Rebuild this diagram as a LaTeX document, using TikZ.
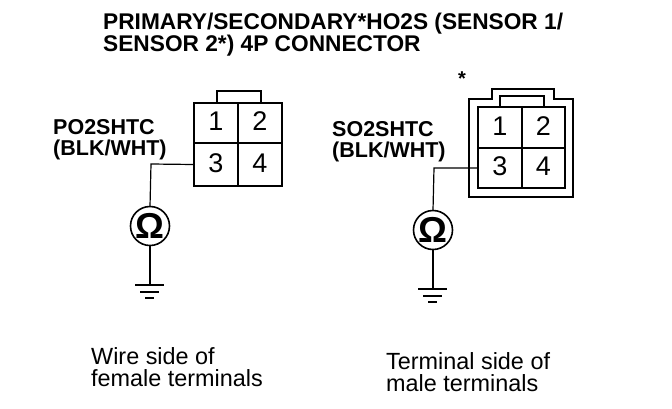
\documentclass[tikz,border=0pt]{standalone}
\usepackage{fontspec}
\setmainfont{Liberation Sans}
\begin{document}
\begin{tikzpicture}[x=1pt,y=-1pt,
  cell/.style={draw=black,line width=1.2pt,inner sep=0pt,outer sep=0pt,text height=15.5pt,text depth=0pt,font=\fontsize{27}{30}\selectfont},
  shell/.style={line width=2.2pt,line join=miter},
  wire/.style={line width=1.2pt},
  meter/.style={circle,draw=black,line width=1.6pt,minimum size=39pt,inner sep=0pt,outer sep=0pt,font=\bfseries\fontsize{36}{38}\selectfont},
  gnd/.style={line width=1.2pt},
  head/.style={anchor=base west,align=left,inner sep=0pt},
  note/.style={anchor=base west,align=left,inner sep=0pt,font=\fontsize{23.4}{22}\selectfont}]
\useasboundingbox[fill=white] (0,0) rectangle (672,408);
\node[head,font=\bfseries\fontsize{22.7}{22}\selectfont] (title) at (103,51) {PRIMARY/SECONDARY*HO2S (SENSOR 1/\\SENSOR 2*) 4P CONNECTOR};
% left connector
\node[cell,minimum width=44pt,minimum height=40pt] (la) at (216,123) {1};
\node[cell,minimum width=44pt,minimum height=40pt] (lb) at (260,123) {2};
\node[cell,minimum width=44pt,minimum height=43pt] (lc) at (216,164.5) {3};
\node[cell,minimum width=44pt,minimum height=43pt] (ld) at (260,164.5) {4};
\draw[shell] (la.north west) rectangle (ld.south east);
\coordinate (lt1) at (217,103); \coordinate (lt2) at (261,103);
\draw[line width=1.8pt] (lt1) -- (217,91) -- (261,91) -- (lt2);
\node[head,font=\bfseries\fontsize{21.5}{21}\selectfont] (lname) at (53,155) {PO2SHTC\\(BLK/WHT)};
\node[meter] (lm) at (150,226) {Ω};
\coordinate (lg) at (150,285);
\draw[wire] (lc.west) -- (151,164) -- (lm.north);
\draw[wire] (lm.south) -- (lg);
\draw[gnd,line width=2pt] (135,285) -- (164,285);
\draw[gnd] (140,292) -- (159,292);
\draw[gnd] (145,298) -- (154,298);
\node[note] (lnote) at (91,386) {Wire side of\\female terminals};
% right connector
\node[cell,minimum width=44pt,minimum height=41pt] (ra) at (500,127.5) {1};
\node[cell,minimum width=43pt,minimum height=41pt] (rb) at (543.5,127.5) {2};
\node[cell,minimum width=44pt,minimum height=40pt] (rc) at (500,168) {3};
\node[cell,minimum width=43pt,minimum height=40pt] (rd) at (543.5,168) {4};
\draw[line width=1.4pt] (ra.north west) rectangle (rd.south east);
\draw[shell] (492,99) -- (492,89) -- (554,89) -- (554,99) -- (573,99) -- (573,197) -- (469,197) -- (469,99) -- cycle;
\draw[line width=1.4pt] (500,107) -- (500,96) -- (544,96) -- (544,107);
\node[head,font=\bfseries\fontsize{21.5}{21}\selectfont] (rname) at (332,157) {SO2SHTC\\(BLK/WHT)};
\node[font=\bfseries\fontsize{20}{20}\selectfont,inner sep=0pt,anchor=base] (star) at (462,85) {*};
\node[meter] (rm) at (433,230) {Ω};
\coordinate (rg) at (433,289);
\draw[wire] (rc.west) -- (434,168) -- (rm.north);
\draw[wire] (rm.south) -- (rg);
\draw[gnd,line width=2pt] (418,289) -- (447,289);
\draw[gnd] (423,296) -- (442,296);
\draw[gnd] (428,302) -- (437,302);
\node[note] (rnote) at (386,391) {Terminal side of\\male terminals};
\end{tikzpicture}
\end{document}
